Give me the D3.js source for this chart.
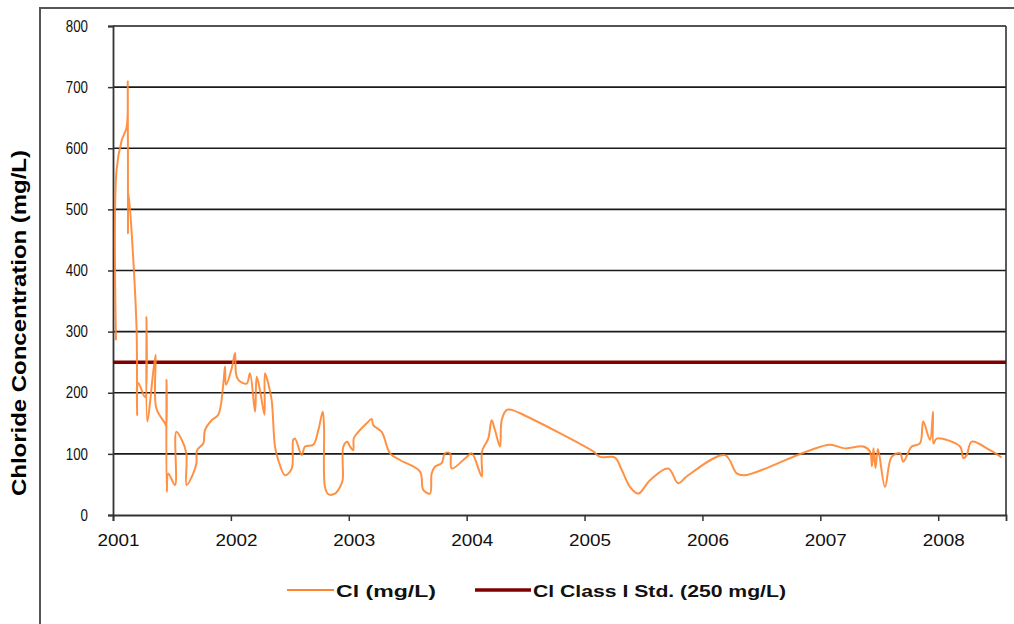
<!DOCTYPE html>
<html>
<head>
<meta charset="utf-8">
<script src="https://cdn.jsdelivr.net/npm/d3@7"></script>
<style>
  body { margin: 0; background: #fff; }
  svg { display: block; font-family: Arial, "Liberation Sans", sans-serif; }
</style>
</head>
<body>
<svg id="chart" width="1014" height="624"></svg>
<script>
// ---- data (decimal year, mg/L) ----
const sampleYears = [
  2001.025, 2001.030, 2001.074, 2001.116, 2001.125, 2001.127, 2001.131, 2001.199, 2001.204, 2001.215,
  2001.271, 2001.284, 2001.291, 2001.361, 2001.367, 2001.441, 2001.452, 2001.454, 2001.456, 2001.469,
  2001.526, 2001.537, 2001.583, 2001.622, 2001.625, 2001.681, 2001.708, 2001.713, 2001.766, 2001.780,
  2001.837, 2001.893, 2001.936, 2001.950, 2001.959, 2002.007, 2002.035, 2002.043, 2002.063, 2002.134,
  2002.162, 2002.205, 2002.219, 2002.247, 2002.285, 2002.289, 2002.317, 2002.346, 2002.374, 2002.402,
  2002.459, 2002.516, 2002.529, 2002.544, 2002.601, 2002.629, 2002.699, 2002.742, 2002.779, 2002.790,
  2002.798, 2002.826, 2002.883, 2002.926, 2002.948, 2002.954, 2002.988, 2003.010, 2003.038, 2003.043,
  2003.081, 2003.152, 2003.194, 2003.208, 2003.279, 2003.350, 2003.434, 2003.604, 2003.632, 2003.689,
  2003.703, 2003.731, 2003.788, 2003.816, 2003.859, 2003.873, 2004.000, 2004.043, 2004.128, 2004.130,
  2004.183, 2004.212, 2004.240, 2004.283, 2004.297, 2004.340, 2004.382, 2004.480, 2005.074, 2005.131,
  2005.258, 2005.315, 2005.385, 2005.456, 2005.555, 2005.710, 2005.795, 2005.866, 2006.191, 2006.291,
  2006.361, 2006.884, 2007.082, 2007.209, 2007.364, 2007.421, 2007.438, 2007.451, 2007.468, 2007.489,
  2007.549, 2007.605, 2007.676, 2007.704, 2007.775, 2007.845, 2007.873, 2007.930, 2007.956, 2007.960,
  2007.987, 2008.185, 2008.213, 2008.242, 2008.284, 2008.439, 2008.538
];
const chlorideValues = [
  286, 564, 613, 635, 709, 461, 527, 311, 163, 216,
  193, 324, 153, 262, 175, 150, 145, 221, 38, 68,
  49, 136, 123, 101, 49, 68, 85, 106, 117, 139,
  155, 164, 215, 243, 213, 240, 265, 232, 221, 215,
  232, 169, 226, 204, 164, 232, 215, 188, 112, 90,
  65, 76, 123, 125, 98, 112, 115, 139, 169, 144,
  46, 34, 35, 46, 57, 112, 120, 112, 106, 126,
  136, 150, 157, 147, 136, 101, 90, 71, 41, 35,
  68, 79, 85, 101, 101, 76, 95, 101, 63, 104,
  125, 155, 139, 112, 155, 172, 172, 164, 104, 95,
  94, 74, 46, 35, 57, 76, 52, 63, 98, 68,
  65, 104, 115, 109, 112, 104, 80, 109, 77, 108,
  46, 95, 101, 87, 112, 117, 153, 123, 169, 117,
  125, 112, 93, 98, 120, 106, 94
];
const standardValue = 250;
const yTicks = [0, 100, 200, 300, 400, 500, 600, 700, 800];
const xTickYears = [2001, 2002, 2003, 2004, 2005, 2006, 2007, 2008];
const xDomain = [2001, 2008.575];
const yAxisTitle = "Chloride Concentration (mg/L)";
const legendLabels = ["Cl (mg/L)", "Cl Class I Std. (250 mg/L)"];

// ---- layout ----
const svg = d3.select("#chart");
const plot = { left: 113, right: 1006, top: 26, bottom: 515 };
const x = d3.scaleLinear().domain(xDomain).range([plot.left, plot.right]);
const y = d3.scaleLinear().domain([0, 800]).range([plot.bottom, plot.top]);
const FONT = "Arial, 'Liberation Sans', sans-serif";

// outer chart border (partially out of view)
svg.append("rect")
  .attr("x", 40).attr("y", 8).attr("width", 1100).attr("height", 700)
  .attr("fill", "none").attr("stroke", "#555").attr("stroke-width", 2);

// gridlines
svg.append("g").selectAll("line").data(yTicks.filter(d => d > 0)).join("line")
  .attr("x1", plot.left).attr("x2", plot.right)
  .attr("y1", d => y(d)).attr("y2", d => y(d))
  .attr("stroke", "#1a1a1a").attr("stroke-width", 1.6);

// right frame
svg.append("line")
  .attr("x1", plot.right).attr("x2", plot.right)
  .attr("y1", plot.top).attr("y2", plot.bottom)
  .attr("stroke", "#333").attr("stroke-width", 1.6);

// y axis
const yAxis = d3.axisLeft(y).tickValues(yTicks).tickSize(5).tickPadding(20).tickFormat(d3.format("d"));
const gy = svg.append("g").attr("transform", `translate(${plot.left},0)`).call(yAxis);
gy.select(".domain").attr("stroke", "#333").attr("stroke-width", 1.8);
gy.selectAll(".tick line").attr("stroke", "#333").attr("stroke-width", 1.5);
gy.selectAll(".tick text").attr("font-size", 16).attr("fill", "#111")
  .attr("font-family", FONT)
  .attr("textLength", d => String(d).length * 7.4).attr("lengthAdjust", "spacingAndGlyphs");

// x axis
const xAxis = d3.axisBottom(x).tickValues(xTickYears).tickSize(6).tickPadding(13).tickFormat(d3.format("d"));
const gx = svg.append("g").attr("transform", `translate(0,${plot.bottom})`).call(xAxis);
gx.select(".domain").attr("stroke", "#333").attr("stroke-width", 1.8);
gx.selectAll(".tick line").attr("stroke", "#333").attr("stroke-width", 1.5);
gx.selectAll(".tick text").attr("font-size", 17).attr("fill", "#111").attr("dx", 5)
  .attr("font-family", FONT)
  .attr("textLength", 42).attr("lengthAdjust", "spacingAndGlyphs");

// standard line
svg.append("line")
  .attr("x1", plot.left).attr("x2", plot.right)
  .attr("y1", y(standardValue)).attr("y2", y(standardValue))
  .attr("stroke", "#800000").attr("stroke-width", 3.5);

// chloride series
const series = sampleYears.map((t, i) => ({ t, v: chlorideValues[i] }));
const line = d3.line().x(d => x(d.t)).y(d => y(d.v)).curve(d3.curveCatmullRom.alpha(0.5));
svg.append("path").datum(series)
  .attr("d", line).attr("fill", "none")
  .attr("stroke", "#ff8530").attr("stroke-width", 2).attr("stroke-opacity", 0.9)
  .attr("stroke-linejoin", "round");

// y axis title
svg.append("text")
  .attr("transform", `translate(26,323) rotate(-90)`)
  .attr("text-anchor", "middle")
  .attr("font-size", 20).attr("font-weight", "bold").attr("fill", "#000")
  .attr("textLength", 346).attr("lengthAdjust", "spacingAndGlyphs")
  .text(yAxisTitle);

// legend
const legendItems = [
  { label: legendLabels[0], color: "#ff8530", w: 2, x0: 287, x1: 334, tl: 100 },
  { label: legendLabels[1], color: "#800000", w: 3.5, x0: 475, x1: 531, tl: 253 }
];
const lg = svg.append("g");
legendItems.forEach(it => {
  lg.append("line").attr("x1", it.x0).attr("x2", it.x1).attr("y1", 590).attr("y2", 590)
    .attr("stroke", it.color).attr("stroke-width", it.w);
  lg.append("text").attr("x", it.x1 + 2).attr("y", 597)
    .attr("font-size", 17).attr("font-weight", "bold").attr("fill", "#111")
    .attr("textLength", it.tl).attr("lengthAdjust", "spacingAndGlyphs")
    .text(it.label);
});
</script>
</body>
</html>
